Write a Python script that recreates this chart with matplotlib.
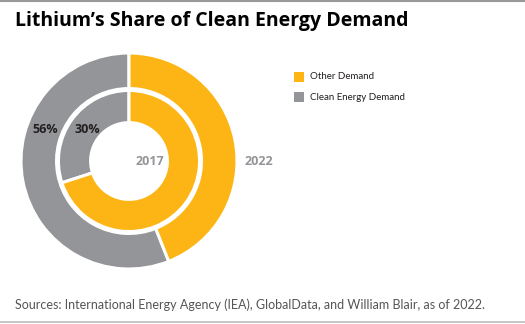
import matplotlib
matplotlib.use("Agg")
import matplotlib.pyplot as plt
from matplotlib.patches import Rectangle
from matplotlib.lines import Line2D

categories = ["Clean Energy Demand", "Other Demand"]
share_2022 = [56, 44]
share_2017 = [30, 70]
years = ["2017", "2022"]
legend_order = ["Other Demand", "Clean Energy Demand"]

GRAY = "#939598"
ORANGE = "#FDB515"
colors = {"Clean Energy Demand": GRAY, "Other Demand": ORANGE}

W, H = 525, 324
fig = plt.figure(figsize=(W / 100, H / 100), dpi=100)
fig.patch.set_facecolor("white")

def px(x, y):
    return x / W, 1 - y / H

# pie axes: 240x240 px centred at (129,161)
cx, cy, S = 129, 161, 240
ax = fig.add_axes([(cx - S / 2) / W, (H - cy - S / 2) / H, S / W, S / H])
ax.set_xlim(-1.2, 1.2)
ax.set_ylim(-1.2, 1.2)
ax.set_aspect("equal")
ax.axis("off")

cols = [colors[c] for c in categories]
ax.pie(share_2022, radius=1.125, startangle=90, counterclock=True, colors=cols,
       wedgeprops=dict(width=0.37, edgecolor="white", linewidth=2.2))
ax.pie(share_2017, radius=0.735, startangle=90, counterclock=True, colors=cols,
       wedgeprops=dict(width=0.335, edgecolor="white", linewidth=2.2))

bfont = "Open Sans"
font = "Lato"
ax.text(-0.87, 0.33, f"{share_2022[0]}%", ha="center", va="center", fontsize=9,
        fontweight="bold", color="#231f20", family=bfont)
ax.text(-0.43, 0.33, f"{share_2017[0]}%", ha="center", va="center", fontsize=9,
        fontweight="bold", color="#231f20", family=bfont)
ax.text(0.22, -0.01, years[0], ha="center", va="center", fontsize=9,
        fontweight="bold", color=GRAY, family=bfont)
ax.text(1.35, -0.01, years[1], ha="center", va="center", fontsize=9,
        fontweight="bold", color=GRAY, family=bfont, clip_on=False)

# legend
for i, name in enumerate(legend_order):
    y0 = 72 + i * 20
    x0, y0f = px(294, y0 + 10)
    fig.add_artist(Rectangle((x0, y0f), 10 / W, 10 / H, transform=fig.transFigure,
                             facecolor=colors[name], edgecolor="none"))
    tx, ty = px(310, y0 + 5)
    fig.text(tx, ty, name, ha="left", va="center", fontsize=7, color="#231f20", family=font)

# title & source
tx, ty = px(15, 26)
fig.text(tx, ty, "Lithium’s Share of Clean Energy Demand", ha="left", va="baseline",
         fontsize=14, fontweight="bold", color="#000000", family=bfont)
tx, ty = px(15, 309)
fig.text(tx, ty, "Sources: International Energy Agency (IEA), GlobalData, and William Blair, as of 2022.",
         ha="left", va="baseline", fontsize=9, color="#555555", family=font)

# top & bottom rules
fig.add_artist(Line2D([0, 1], [1 - 1 / H, 1 - 1 / H], transform=fig.transFigure,
                      color="#999999", linewidth=1.5))
fig.add_artist(Line2D([0, 1], [1 - 322 / H, 1 - 322 / H], transform=fig.transFigure,
                      color="#bbbbbb", linewidth=1.2))

fig.savefig("out.png", dpi=100, facecolor="white")
